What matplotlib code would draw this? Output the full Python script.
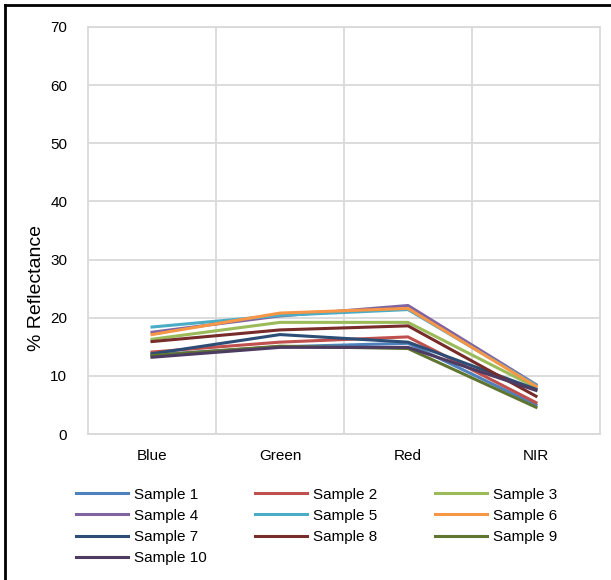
import matplotlib
matplotlib.use('Agg')
import matplotlib.pyplot as plt
from matplotlib.lines import Line2D

plt.rcParams['font.family'] = ['Liberation Sans', 'DejaVu Sans']

# data
bands = ['Blue', 'Green', 'Red', 'NIR']
samples = ['Sample %d' % i for i in range(1, 11)]
reflectance = [
    [13.6, 15.0, 15.6, 5.0],   # Sample 1
    [14.1, 15.8, 16.7, 5.4],   # Sample 2
    [16.3, 19.2, 19.2, 8.0],   # Sample 3
    [17.5, 20.3, 22.1, 8.5],   # Sample 4
    [18.4, 20.4, 21.4, 8.4],   # Sample 5
    [17.1, 20.8, 21.6, 8.2],   # Sample 6
    [13.8, 17.1, 15.8, 7.7],   # Sample 7
    [15.9, 17.9, 18.6, 6.5],   # Sample 8
    [13.5, 15.1, 14.7, 4.6],   # Sample 9
    [13.2, 14.9, 14.9, 7.5],   # Sample 10
]
colors = ['#4F81BD', '#C0504D', '#9BBB59', '#8064A2', '#4BACC6',
          '#F79646', '#2C4D75', '#772C2A', '#5F7530', '#4D3B62']

fig = plt.figure(figsize=(6.11, 5.8), dpi=100)
ax = fig.add_axes([88 / 611, 1 - 434 / 580, 512 / 611, 407 / 580])

x = range(len(bands))
for vals, c, name in zip(reflectance, colors, samples):
    ax.plot(x, vals, color=c, linewidth=2.2, label=name, solid_joinstyle='round')

ax.set_xlim(-0.5, 3.5)
ax.set_ylim(0, 70)
ax.set_yticks(range(0, 71, 10))
ax.set_xticks(list(x))
ax.set_xticklabels(bands)
ax.set_xticks([0.5, 1.5, 2.5], minor=True)
ax.tick_params(which='both', length=0, labelsize=11, colors='black')
ax.tick_params(axis='y', pad=15)
ax.tick_params(axis='x', pad=11)
ax.grid(True, axis='y', color='#D9D9D9', linewidth=1.3)
ax.grid(True, axis='x', which='minor', color='#D9D9D9', linewidth=1.3)
for s in ax.spines.values():
    s.set_color('#D9D9D9')
    s.set_linewidth(1.3)
ax.set_ylabel('% Reflectance', fontsize=14)
ax.yaxis.set_label_coords(-0.084, 0.359)

# legend: one column at a time so the columns line up like the original
col_x = [68, 247, 427]
for col in range(3):
    idx = list(range(col, len(samples), 3))
    handles = [Line2D([], [], color=colors[i], linewidth=2.2) for i in idx]
    labels = [samples[i] for i in idx]
    fig.legend(handles, labels, loc='upper left', bbox_to_anchor=(col_x[col] / 611, 1 - 480 / 580),
               frameon=False, fontsize=11, handlelength=3.4, handletextpad=0.45,
               labelspacing=0.47, borderpad=0)

# outer border (left and top only visible)
fig.add_artist(Line2D([5 / 611, 5 / 611], [0, 1 - 5 / 580], color='black', linewidth=2,
                      transform=fig.transFigure))
fig.add_artist(Line2D([5 / 611, 1], [1 - 5 / 580, 1 - 5 / 580], color='black', linewidth=2,
                      transform=fig.transFigure))

fig.savefig('out.png', dpi=100)
